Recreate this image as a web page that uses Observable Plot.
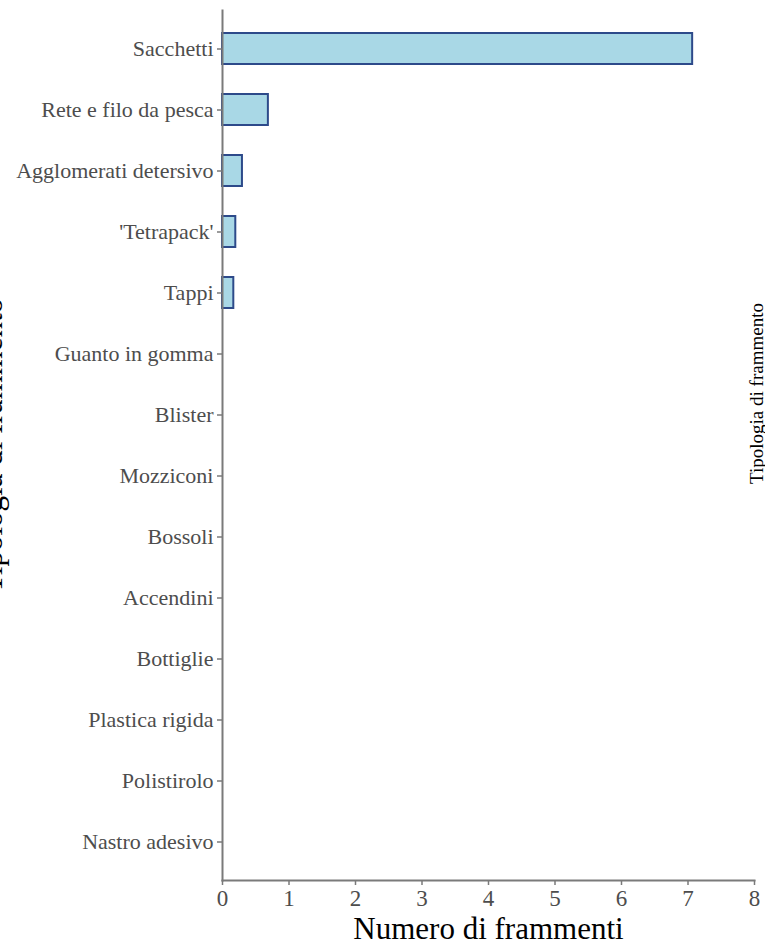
<!DOCTYPE html>
<html>
<head>
<meta charset="utf-8">
<script src="https://cdn.jsdelivr.net/npm/d3@7"></script>
<script src="https://cdn.jsdelivr.net/npm/@observablehq/plot@0.6"></script>
<style>
  html, body { margin: 0; padding: 0; background: #fff; overflow: hidden; }
  #chart svg { display: block; }
</style>
</head>
<body>
<div id="chart"></div>
<script>
const categories = ["Sacchetti", "Rete e filo da pesca", "Agglomerati detersivo", "'Tetrapack'", "Tappi",
  "Guanto in gomma", "Blister", "Mozziconi", "Bossoli", "Accendini", "Bottiglie",
  "Plastica rigida", "Polistirolo", "Nastro adesivo"];
const values = [7.07, 0.69, 0.30, 0.20, 0.17, 0, 0, 0, 0, 0, 0, 0, 0, 0];
const xTicks = [0, 1, 2, 3, 4, 5, 6, 7, 8];
const xTitle = "Numero di frammenti";
const yTitle = "Tipologia di frammento";

const data = categories.map((c, i) => ({cat: c, value: values[i]}));
const font = "'Liberation Serif', 'Times New Roman', serif";

const plot = Plot.plot({
  width: 765,
  height: 946,
  marginLeft: 222,
  marginRight: 11,
  marginTop: 10,
  marginBottom: 66,
  style: {fontFamily: font, background: "#fff", overflow: "hidden"},
  x: {domain: [0, 8]},
  y: {domain: categories, paddingInner: 0.5, paddingOuter: 0.35},
  marks: [
    Plot.barX(data, {filter: d => d.value > 0, x: "value", y: "cat", fill: "#a9d8e6", stroke: "#2d4a8a", strokeWidth: 2}),
    Plot.frame({anchor: "left", stroke: "#7a7a7a", strokeWidth: 2}),
    Plot.frame({anchor: "bottom", stroke: "#7a7a7a", strokeWidth: 2}),
    Plot.axisY({tickSize: 5, tickPadding: 4, fontSize: 22, color: "#4d4d4d", stroke: "#7a7a7a", strokeWidth: 1.5, label: null}),
    Plot.axisX({ticks: xTicks, tickSize: 5, tickPadding: 4, fontSize: 23, color: "#4d4d4d", stroke: "#7a7a7a", strokeWidth: 1.5, label: null}),
    Plot.text([xTitle], {frameAnchor: "bottom", dy: 49, fontSize: 31, fill: "#000", lineAnchor: "middle"}),
    Plot.text([yTitle], {frameAnchor: "left", dx: -230, rotate: -90, fontSize: 31, fill: "#000", textAnchor: "middle", lineAnchor: "middle"}),
    Plot.text([yTitle], {frameAnchor: "right", dx: 2, dy: -52, rotate: -90, fontSize: 19, fill: "#000", textAnchor: "middle", lineAnchor: "middle"})
  ]
});
document.getElementById("chart").appendChild(plot);
</script>
</body>
</html>
